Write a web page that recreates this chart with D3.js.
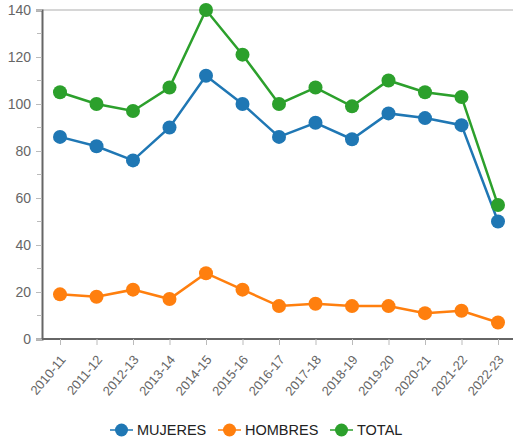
<!DOCTYPE html>
<html>
<head>
<meta charset="utf-8">
<script src="https://cdn.jsdelivr.net/npm/d3@7"></script>
<style>
  body { margin: 0; background: #fff; }
  svg { font-family: "Liberation Sans", Arial, sans-serif; }
</style>
</head>
<body>
<svg id="chart" width="513" height="443"></svg>
<script>
//Categories (school years)
var years = ["2010-11", "2011-12", "2012-13", "2013-14", "2014-15", "2015-16", "2016-17",
             "2017-18", "2018-19", "2019-20", "2020-21", "2021-22", "2022-23"];

//Series values
var mujeres = [86, 82, 76, 90, 112, 100, 86, 92, 85, 96, 94, 91, 50];
var hombres = [19, 18, 21, 17, 28, 21, 14, 15, 14, 14, 11, 12, 7];
var total = [105, 100, 97, 107, 140, 121, 100, 107, 99, 110, 105, 103, 57];

//Series names and tick values
var seriesNames = ["MUJERES", "HOMBRES", "TOTAL"];
var yTicks = [0, 20, 40, 60, 80, 100, 120, 140];
var yMinorTicks = [10, 30, 50, 70, 90, 110, 130];

var colors = ["#1f77b4", "#ff7f0e", "#2ca02c"];
var series = [mujeres, hombres, total];

var svg = d3.select("#chart");
var margin = {left: 42, right: 0, top: 10, bottom: 104};
var width = 513, height = 443;

//Scales
var xScale = d3.scalePoint()
    .domain(years)
    .range([60, 498]);

var yScale = d3.scaleLinear()
    .domain([0, 140])
    .range([339, 10]);

//Top frame line
svg.append("line")
    .attr("x1", margin.left).attr("x2", width)
    .attr("y1", yScale(140)).attr("y2", yScale(140))
    .attr("stroke", "#c8c8c8").attr("stroke-width", 1.5);

//Y axis
var yAxis = svg.append("g")
    .attr("transform", "translate(" + margin.left + ",0)")
    .call(d3.axisLeft(yScale).tickValues(yTicks).tickSize(6).tickPadding(5));
yAxis.select(".domain").attr("stroke", "#666").attr("stroke-width", 2);
yAxis.selectAll(".tick line").attr("stroke", "#bbb");
yAxis.selectAll(".tick text")
    .attr("fill", "#666")
    .style("font-size", "14px");

//Minor y ticks
svg.append("g")
    .selectAll("line")
    .data(yMinorTicks)
    .enter()
    .append("line")
    .attr("x1", margin.left - 5).attr("x2", margin.left)
    .attr("y1", function(d){ return yScale(d); })
    .attr("y2", function(d){ return yScale(d); })
    .attr("stroke", "#bbb");

//X axis
var xAxis = svg.append("g")
    .attr("transform", "translate(0," + yScale(0) + ")")
    .call(d3.axisBottom(xScale).tickSize(6).tickSizeOuter(0));
xAxis.select(".domain")
    .attr("d", "M" + margin.left + ",0H" + width)
    .attr("stroke", "#666").attr("stroke-width", 2);
xAxis.selectAll(".tick line").attr("stroke", "#bbb");
xAxis.selectAll(".tick text")
    .attr("fill", "#666")
    .style("font-size", "13px")
    .style("text-anchor", "end")
    .attr("dy", null)
    .attr("y", 0)
    .attr("transform", "translate(6,21) rotate(-50)");

//Lines and markers
var line = d3.line()
    .x(function(d, i){ return xScale(years[i]); })
    .y(function(d){ return yScale(d); });

series.forEach(function(values, k){
    svg.append("path")
        .datum(values)
        .attr("d", line)
        .attr("fill", "none")
        .attr("stroke", colors[k])
        .attr("stroke-width", 2.5);

    svg.append("g")
        .selectAll("circle")
        .data(values)
        .enter()
        .append("circle")
        .attr("cx", function(d, i){ return xScale(years[i]); })
        .attr("cy", function(d){ return yScale(d); })
        .attr("r", 7)
        .attr("fill", colors[k]);
});

//Legend
var legendX = [110, 218, 330];
var legend = svg.append("g")
    .selectAll("g")
    .data(seriesNames)
    .enter()
    .append("g")
    .attr("transform", function(d, i){ return "translate(" + legendX[i] + ",430)"; });

legend.append("line")
    .attr("x1", 0).attr("x2", 23)
    .attr("stroke", function(d, i){ return colors[i]; })
    .attr("stroke-width", 1.5);
legend.append("circle")
    .attr("cx", 11.5)
    .attr("r", 6.5)
    .attr("fill", function(d, i){ return colors[i]; });
legend.append("text")
    .attr("x", 27)
    .attr("dy", "0.35em")
    .attr("fill", "#222")
    .style("font-size", "14.5px")
    .text(function(d){ return d; });
</script>
</body>
</html>
